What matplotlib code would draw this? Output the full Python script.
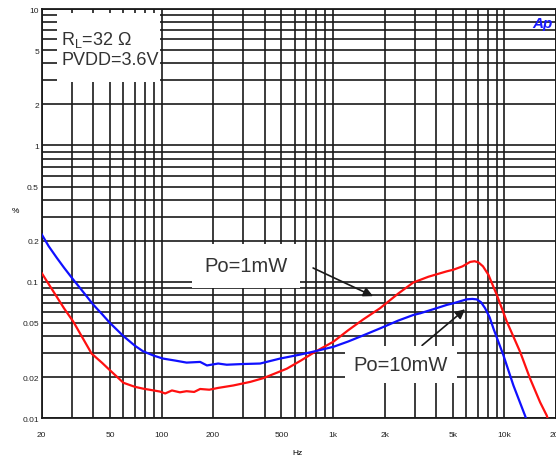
import matplotlib
matplotlib.use("Agg")
import matplotlib.pyplot as plt
from matplotlib.patches import Rectangle
import numpy as np

plt.rcParams['font.family'] = ['Liberation Sans', 'DejaVu Sans']
plt.rcParams['mathtext.fontset'] = 'custom'
plt.rcParams['mathtext.rm'] = 'Liberation Sans'

# THD+N vs frequency, RL = 32 ohm, PVDD = 3.6 V
freq_10mw = [20, 22, 24.5, 27, 30, 35, 40, 45, 50, 60, 70, 78, 90, 102, 120, 140, 168,
             184, 214, 240, 300, 376, 491, 643, 786, 1005, 1230, 1500, 1882, 2400,
             2944, 3222, 4000, 4614, 5040, 5600, 6036, 6500, 6902, 7300, 7716, 8200,
             8626, 9866, 11290, 13200, 13400]
thd_10mw = [0.223, 0.182, 0.150, 0.127, 0.107, 0.084, 0.068, 0.058, 0.050, 0.040,
            0.034, 0.031, 0.0288, 0.0274, 0.0265, 0.0256, 0.0259, 0.0244, 0.0252,
            0.0247, 0.0250, 0.0252, 0.0274, 0.0293, 0.0310, 0.0334, 0.0366, 0.0405,
            0.0456, 0.0520, 0.0572, 0.0588, 0.0640, 0.0678, 0.0697, 0.0725, 0.0745,
            0.0750, 0.0744, 0.0710, 0.0641, 0.0550, 0.0456, 0.0290, 0.0174, 0.01045,
            0.0099]

freq_1mw = [20, 23.4, 27, 30.6, 35, 39.1, 45, 50, 60, 70, 78, 90, 98, 105, 115, 128,
            140, 155, 168, 190, 214, 262, 330, 393, 538, 650, 786, 1005, 1230, 1500,
            1882, 2400, 2944, 3600, 4614, 5040, 5700, 6308, 6700, 7052, 7500, 8066,
            9030, 10330, 12350, 14130, 16160, 17680, 17900]
thd_1mw = [0.116, 0.085, 0.064, 0.051, 0.038, 0.0298, 0.0255, 0.0225, 0.0182, 0.0170,
           0.0165, 0.0160, 0.0157, 0.0152, 0.0160, 0.0155, 0.0158, 0.0156, 0.0164,
           0.0162, 0.0167, 0.0174, 0.0185, 0.0197, 0.0231, 0.0265, 0.0307, 0.0364,
           0.0443, 0.0530, 0.0641, 0.0820, 0.0990, 0.1090, 0.1195, 0.1228, 0.1300,
           0.1400, 0.1417, 0.1390, 0.1300, 0.1128, 0.0803, 0.0511, 0.0307, 0.0195,
           0.0131, 0.01045, 0.0099]

x_ticks = [m * 10 ** d for d in range(1, 5) for m in range(1, 10)]
x_ticks = [t for t in x_ticks if 20 <= t <= 20000]
x_labels = {20: '20', 50: '50', 100: '100', 200: '200', 500: '500', 1000: '1k',
            2000: '2k', 5000: '5k', 10000: '10k', 20000: '20k'}
y_ticks = [round(m * 10.0 ** d, 4) for d in range(-2, 1) for m in range(1, 10)] + [10]
y_labels = {0.01: '0.01', 0.02: '0.02', 0.05: '0.05', 0.1: '0.1', 0.2: '0.2',
            0.5: '0.5', 1: '1', 2: '2', 5: '5', 10: '10'}

fig = plt.figure(figsize=(5.56, 4.56), dpi=100)
ax = fig.add_axes([0.075, 0.0805, 0.925, 0.8975])
ax.set_xscale('log')
ax.set_yscale('log')
ax.set_xlim(20, 20000)
ax.set_ylim(0.01, 10)

ax.set_xticks(x_ticks)
ax.set_xticklabels([x_labels.get(t, '') for t in x_ticks])
ax.set_yticks(y_ticks)
ax.set_yticklabels([y_labels.get(t, '') for t in y_ticks])
ax.minorticks_off()
ax.tick_params(length=0, labelsize=6, colors='#222222')
ax.tick_params(axis='x', pad=9)
ax.tick_params(axis='y', pad=2)
ax.grid(True, which='major', color='#1a1a1a', lw=1.2)
ax.set_axisbelow(True)
for s in ax.spines.values():
    s.set_color('#1a1a1a')
    s.set_linewidth(1.3)

ax.plot(freq_1mw, thd_1mw, color='#ff1010', lw=1.6, zorder=4)
ax.plot(freq_10mw, thd_10mw, color='#1010ff', lw=1.6, zorder=4)

ax.set_ylabel('%', rotation=0, fontsize=6, labelpad=10)
ax.yaxis.set_label_coords(-0.052, 0.5)
ax.set_xlabel('Hz', fontsize=6)
ax.xaxis.set_label_coords(0.498, -0.075)

# condition box in the top left corner
ax.add_patch(Rectangle((0.030, 0.822), 0.200, 0.168, transform=ax.transAxes,
                       facecolor='white', edgecolor='none', zorder=3))
ax.text(0.038, 0.952, 'R$_\\mathrm{L}$=32 \u03a9\nPVDD=3.6V', transform=ax.transAxes,
        fontsize=13, color='#333333', va='top', ha='left', linespacing=1.2, zorder=5)

box = dict(boxstyle='square,pad=0.6', facecolor='white', edgecolor='none')
ax.annotate('', xy=(1714, 0.0786), xytext=(766, 0.1264),
            arrowprops=dict(arrowstyle='-|>', color='#1a1a1a', lw=1.2,
                            mutation_scale=14, shrinkA=0, shrinkB=0), zorder=5)
ax.annotate('', xy=(5898, 0.063), xytext=(3310, 0.0342),
            arrowprops=dict(arrowstyle='-|>', color='#1a1a1a', lw=1.2,
                            mutation_scale=14, shrinkA=0, shrinkB=0), zorder=5)
ax.text(311, 0.1308, 'Po=1mW', fontsize=14.5, color='#333333', ha='center',
        va='center', bbox=box, zorder=5)
ax.text(2496, 0.0247, 'Po=10mW', fontsize=14.5, color='#333333', ha='center',
        va='center', bbox=dict(boxstyle='square,pad=0.45', facecolor='white',
                               edgecolor='none'), zorder=5)

fig.text(0.976, 0.948, 'Ap', fontsize=11, color='#1a1aff', fontweight='bold',
         fontstyle='italic', ha='center', va='center')

fig.savefig('out.png', dpi=100)
